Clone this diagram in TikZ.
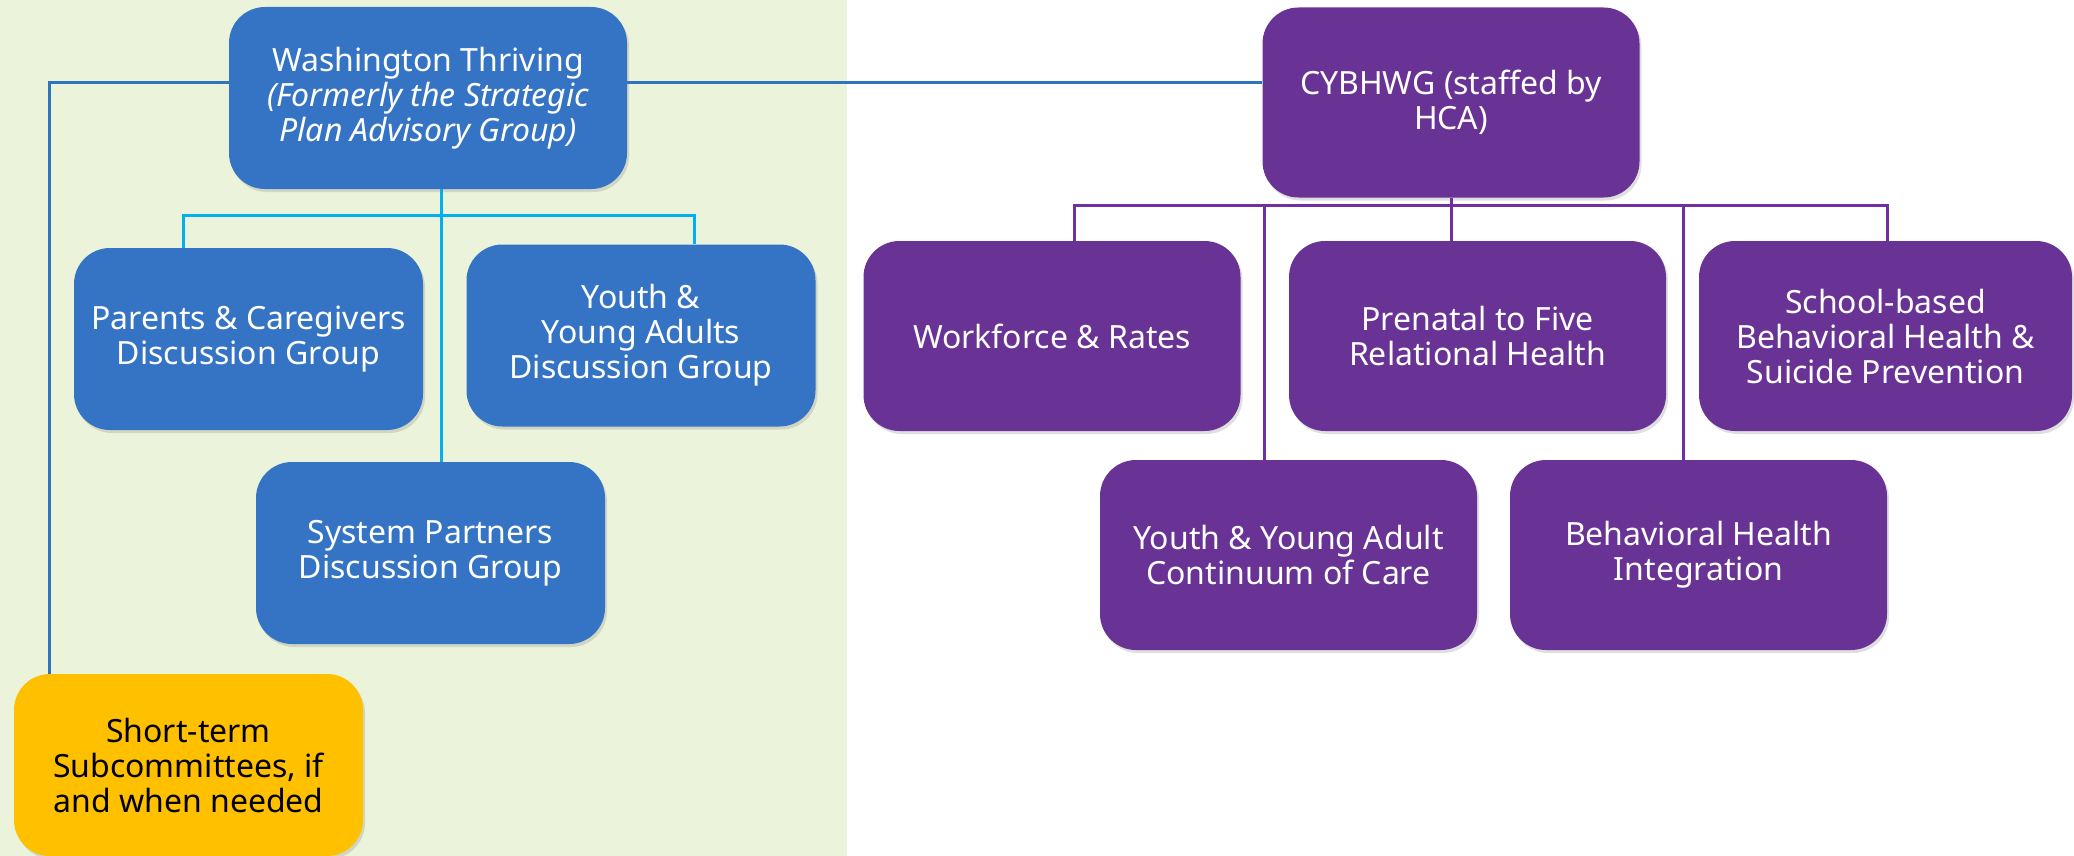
\documentclass[tikz,border=0pt]{standalone}
\usepackage{fontspec}
\setmainfont{Noto Sans}
\usetikzlibrary{shadows}
\definecolor{bggreen}{RGB}{235,244,218}
\definecolor{wtblue}{RGB}{53,116,196}
\definecolor{cypurple}{RGB}{104,51,149}
\definecolor{styellow}{RGB}{255,192,0}
\definecolor{lineblue}{RGB}{46,117,190}
\definecolor{linecyan}{RGB}{0,176,240}
\definecolor{linepurple}{RGB}{112,48,160}
\begin{document}
\begin{tikzpicture}[x=1pt,y=-1pt]
        \useasboundingbox (0,0) rectangle (2074,856);
        \fill[bggreen] (0,0) rectangle (847,856);

        \begin{scope}[every node/.style={fill=wtblue,text=white,rounded corners=36pt,
            minimum width=349pt,minimum height=182pt,align=center,
            font=\fontsize{32}{35}\selectfont,
            drop shadow={opacity=0.25,shadow xshift=2pt,shadow yshift=-3pt}}]
          \node at (428,98) [minimum width=398pt,minimum height=182pt] (wt)
            {Washington Thriving\\\itshape (Formerly the Strategic\\\itshape Plan Advisory Group)};
          \node at (248.5,339) (pc) {Parents \& Caregivers\\Discussion Group};
          \node at (641,335.5) (ya) {Youth \&\\Young Adults\\Discussion Group};
          \node at (430.5,553) (sp) {System Partners\\Discussion Group};
          \node at (188.5,765) [fill=styellow,text=black] (st)
            {Short-term\\Subcommittees, if\\and when needed};
        \end{scope}

        \begin{scope}[every node/.style={fill=cypurple,text=white,rounded corners=36pt,
            minimum width=377pt,minimum height=190pt,align=center,
            font=\fontsize{32}{35}\selectfont,
            drop shadow={opacity=0.25,shadow xshift=2pt,shadow yshift=-3pt}}]
          \node at (1451,102.5) (cy) {CYBHWG (staffed by\\HCA)};
          \node at (1052,336) (wf) {Workforce \& Rates};
          \node at (1477.5,336) (pf) {Prenatal to Five\\Relational Health};
          \node at (1885.5,336) [minimum width=373pt] (sb)
            {School-based\\Behavioral Health \&\\Suicide Prevention};
          \node at (1288.5,555) (yc) {Youth \& Young Adult\\Continuum of Care};
          \node at (1698.5,555) (bh) {Behavioral Health\\Integration};
        \end{scope}

        \begin{scope}[lineblue,line width=3pt]
          \draw ([yshift=15pt]wt.east) -- ([yshift=15pt]wt.east -| cy.west);
          \draw ([yshift=15pt]wt.west) -| ([xshift=-139.5pt]st.north);
        \end{scope}

        \begin{scope}[linecyan,line width=3pt]
          \draw ([xshift=13.5pt]wt.south) -- ([xshift=13.5pt]wt.south |- sp.north);
          \draw ([xshift=-65.5pt]pc.north) -- ++(0,-32) -| ([xshift=53pt]ya.north);
        \end{scope}

        \begin{scope}[linepurple,line width=3pt]
          \draw (cy.south) -- (cy.south |- pf.north);
          \draw ([xshift=22pt]wf.north) -- ++(0,-35) -| ([xshift=1.5pt]sb.north);
          \draw ([xshift=-24.5pt]yc.north) -- ++(0,-254);
          \draw ([xshift=-15.5pt]bh.north) -- ++(0,-254);
        \end{scope}
      \end{tikzpicture}
\end{document}
